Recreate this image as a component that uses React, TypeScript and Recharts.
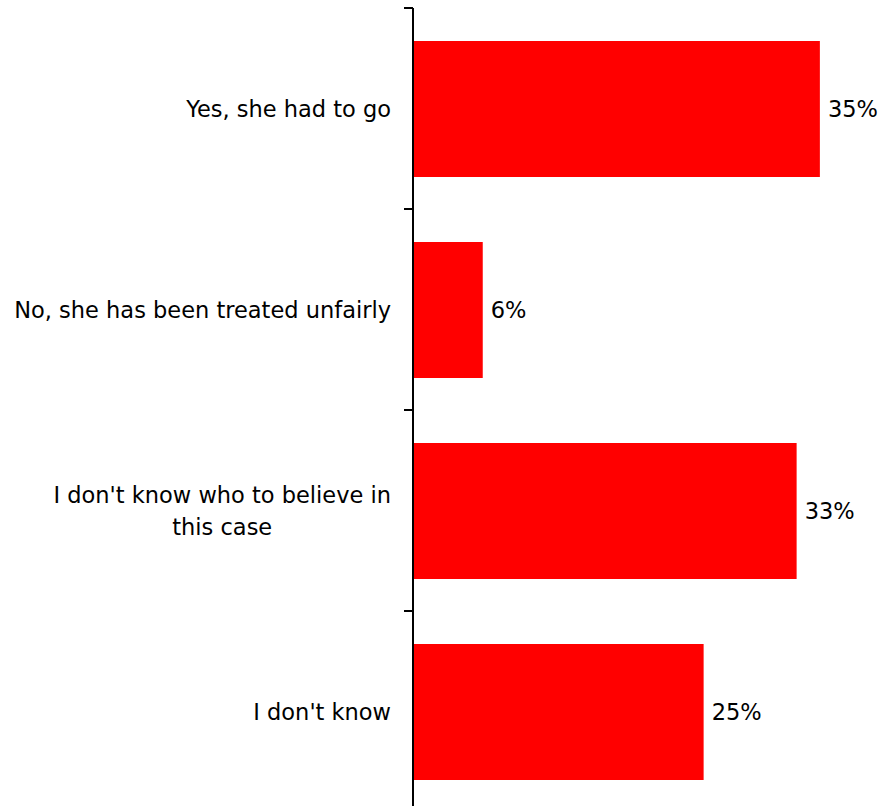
import { BarChart, Bar, XAxis, YAxis, LabelList } from 'recharts';

const categories = [
  'Yes, she had to go',
  'No, she has been treated unfairly',
  "I don't know who to believe in this case",
  "I don't know",
];
const shares = [35, 6, 33, 25];

const data = categories.map((name, i) => ({ name, value: shares[i] }));

const FONT_SIZE = 22.5;
const FONT = `${FONT_SIZE}px "DejaVu Sans"`;
const MAX_LABEL_WIDTH = 385;
const LINE_HEIGHT = 32;

// measure text with a canvas so wrapped labels can be centred as a block
let ctx: CanvasRenderingContext2D | null = null;
function measure(text: string) {
  if (!ctx) ctx = document.createElement('canvas').getContext('2d');
  if (!ctx) return text.length * FONT_SIZE * 0.55;
  ctx.font = FONT;
  return ctx.measureText(text).width;
}

function wrap(text: string) {
  const words = text.split(' ');
  const lines: string[] = [];
  let cur = '';
  words.forEach((w) => {
    const next = cur ? `${cur} ${w}` : w;
    if (cur && measure(next) > MAX_LABEL_WIDTH) {
      lines.push(cur);
      cur = w;
    } else {
      cur = next;
    }
  });
  if (cur) lines.push(cur);
  return lines;
}

const CategoryTick = (props: any) => {
  const { x, y, payload } = props;
  const half = payload.offset || 100;
  const lines = wrap(String(payload.value));
  const blockWidth = Math.max(...lines.map(measure));
  const cx = x - blockWidth / 2;
  const startY = y - ((lines.length - 1) * LINE_HEIGHT) / 2;
  return (
    <g>
      {/* boundary tick above each category */}
      <line x1={x + 13} x2={x + 22} y1={y - half} y2={y - half} stroke="#000" strokeWidth={2} />
      <text
        x={cx}
        y={startY}
        textAnchor="middle"
        dominantBaseline="central"
        fill="#000"
        style={{ font: FONT }}
      >
        {lines.map((l, i) => (
          <tspan key={i} x={cx} dy={i === 0 ? 0 : LINE_HEIGHT}>
            {l}
          </tspan>
        ))}
      </text>
    </g>
  );
};

export default function App() {
  return (
    <div style={{ position: 'absolute', left: 0, top: 0, fontFamily: '"DejaVu Sans"' }}>
      <BarChart
        width={882}
        height={806}
        data={data}
        layout="vertical"
        margin={{ top: 8, right: 4, left: 0, bottom: -6 }}
      >
        <XAxis type="number" domain={[0, 40]} hide />
        <YAxis
          type="category"
          dataKey="name"
          width={413}
          axisLine={{ stroke: '#000', strokeWidth: 2 }}
          tickLine={false}
          tickSize={9}
          tickMargin={13}
          tick={<CategoryTick />}
          interval={0}
        />
        <Bar dataKey="value" fill="#ff0000" barSize={136} isAnimationActive={false}>
          <LabelList
            dataKey="value"
            position="right"
            offset={8}
            formatter={(v: any) => `${v}%`}
            style={{ font: FONT, fill: '#000' }}
          />
        </Bar>
      </BarChart>
    </div>
  );
}
